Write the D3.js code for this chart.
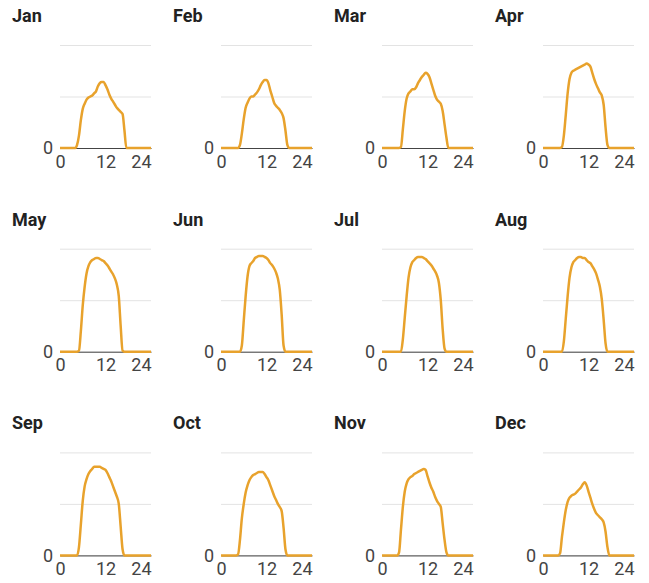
<!DOCTYPE html>
<html>
<head>
<meta charset="utf-8">
<script src="https://cdn.jsdelivr.net/npm/d3@7"></script>
<style>
  html, body { margin: 0; padding: 0; background: #fff; }
  svg { display: block; font-family: Roboto, "Noto Sans", sans-serif; }
</style>
</head>
<body>
<svg id="chart" width="649" height="583"></svg>
<script>
// ---- data ----
const months = ["Jan","Feb","Mar","Apr","May","Jun","Jul","Aug","Sep","Oct","Nov","Dec"];
const hours = [0,0.5,1,1.5,2,2.5,3,3.5,4,4.5,5,5.5,6,6.5,7,7.5,8,8.5,9,9.5,10,10.5,11,11.5,
  12,12.5,13,13.5,14,14.5,15,15.5,16,16.5,17,17.5,18,18.5,19,19.5,20,20.5,21,21.5,22,22.5,23,23.5,24];
const jan = [0,0,0,0,0,0,0,0,0,3,12,27,38,43,47,49,50,51,53,55,60,63,64,64,61,57,52,48,45,42,39,37,35,33,17,0,0,0,0,0,0,0,0,0,0,0,0,0,0];
const feb = [0,0,0,0,0,0,0,0,0,0,3,14,28,39,44,48,50,50,52,54,57,61,64,66,66,63,56,50,44,41,39,37,34,29,17,3,0,0,0,0,0,0,0,0,0,0,0,0,0];
const mar = [0,0,0,0,0,0,0,0,0,0,1,18,36,48,53,55,57,57,59,63,66,69,71,73,72,69,63,57,51,47,45,43,36,23,10,0,0,0,0,0,0,0,0,0,0,0,0,0,0];
const apr = [0,0,0,0,0,0,0,0,0,0,1,12,32,53,67,73,75,76,77,78,79,80,81,82,81,79,73,67,62,58,54,51,42,20,3,0,0,0,0,0,0,0,0,0,0,0,0,0,0];
const may = [0,0,0,0,0,0,0,0,0,0,1,20,45,63,76,83,87,89,90,91,91,90,89,88,86,84,81,78,75,71,65,54,25,1,0,0,0,0,0,0,0,0,0,0,0,0,0,0,0];
const jun = [0,0,0,0,0,0,0,0,0,0,0,6,30,54,73,83,86,88,91,92,93,93,93,92,91,89,86,84,81,77,71,60,36,6,0,0,0,0,0,0,0,0,0,0,0,0,0,0,0];
const jul = [0,0,0,0,0,0,0,0,0,0,0,12,33,54,72,82,87,89,91,92,92,92,91,90,88,86,84,81,78,74,67,50,22,3,0,0,0,0,0,0,0,0,0,0,0,0,0,0,0];
const aug = [0,0,0,0,0,0,0,0,0,0,0,10,32,54,72,82,87,89,91,92,92,91,91,89,87,86,83,80,76,70,63,51,31,8,0,0,0,0,0,0,0,0,0,0,0,0,0,0,0];
const sep = [0,0,0,0,0,0,0,0,0,0,8,30,53,67,74,79,82,84,86,86,86,86,85,84,83,80,76,72,67,62,57,50,28,6,0,0,0,0,0,0,0,0,0,0,0,0,0,0,0];
const oct = [0,0,0,0,0,0,0,0,0,1,15,36,50,61,68,73,76,78,79,80,81,81,81,79,76,73,68,63,58,54,50,47,43,27,6,0,0,0,0,0,0,0,0,0,0,0,0,0,0];
const nov = [0,0,0,0,0,0,0,0,0,3,25,47,62,70,74,76,77,79,80,81,82,83,84,83,77,71,66,62,57,53,50,47,31,15,3,0,0,0,0,0,0,0,0,0,0,0,0,0,0];
const dec = [0,0,0,0,0,0,0,0,0,2,18,32,44,52,56,58,59,60,62,64,66,69,71,68,62,56,50,45,41,39,37,35,32,23,8,0,0,0,0,0,0,0,0,0,0,0,0,0,0];
const series = [jan,feb,mar,apr,may,jun,jul,aug,sep,oct,nov,dec];
const xTicks = [0, 12, 24];
const yGrid = [0, 50, 100];

// ---- layout ----
const plotW = 91, plotH = 103;
const left0 = 60, top0 = 45, colStep = 161, rowStep = 203.7;
const lineColor = "#e8a22c";

const svg = d3.select("#chart");
const x = d3.scaleLinear().domain([0, 24]).range([0, plotW]);
const y = d3.scaleLinear().domain([0, 100]).range([plotH, 0]);
const line = d3.line()
  .x((d, i) => x(hours[i]))
  .y(d => y(d))
  .curve(d3.curveMonotoneX);

months.forEach((m, i) => {
  const col = i % 4, row = Math.floor(i / 4);
  const g = svg.append("g")
    .attr("transform", `translate(${left0 + col * colStep},${top0 + row * rowStep})`);

  // title
  g.append("text")
    .attr("x", -48).attr("y", -23)
    .attr("font-size", 18).attr("font-weight", 700)
    .attr("fill", "#222")
    .text(m);

  // y grid + label
  const ya = g.append("g")
    .call(d3.axisLeft(y).tickValues(yGrid).tickSize(-plotW).tickPadding(7)
      .tickFormat(d => d === 0 ? "0" : ""));
  ya.select(".domain").remove();
  ya.selectAll(".tick line").attr("stroke", "#e3e3e3");
  ya.selectAll(".tick text").attr("font-size", 18).attr("fill", "#444")
    .attr("font-family", "Roboto, sans-serif");

  // x axis
  const xa = g.append("g")
    .attr("transform", `translate(0,${plotH})`)
    .call(d3.axisBottom(x).tickValues(xTicks).tickSize(0).tickPadding(7).tickFormat(d3.format("d")));
  xa.select(".domain").attr("stroke", "#444");
  xa.selectAll(".tick text").attr("font-size", 18).attr("fill", "#444")
    .attr("font-family", "Roboto, sans-serif")
    .attr("text-anchor", d => d === 24 ? "end" : "middle");

  // line
  g.append("path")
    .datum(series[i])
    .attr("fill", "none")
    .attr("stroke", lineColor)
    .attr("stroke-width", 2.5)
    .attr("stroke-linejoin", "round")
    .attr("d", line);
});
</script>
</body>
</html>
